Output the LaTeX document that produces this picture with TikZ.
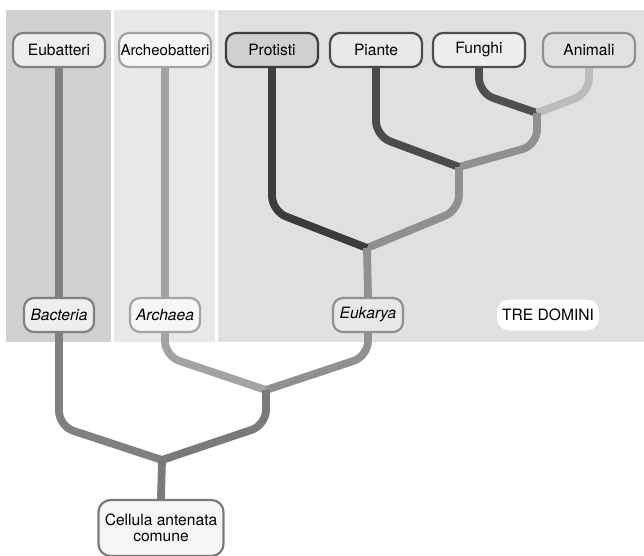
\documentclass[tikz,border=0pt]{standalone}
\usepackage{fontspec}
\setmainfont{TeX Gyre Heros}
\usepackage{xcolor}
\usepackage{tikz}
\usetikzlibrary{positioning}
\definecolor{bactbg}{HTML}{D0D0D0}
\definecolor{archbg}{HTML}{E8E8E8}
\definecolor{eukbg}{HTML}{E0E0E0}
\definecolor{cbact}{HTML}{808080}
\definecolor{carch}{HTML}{A3A3A3}
\definecolor{cprot}{HTML}{3C3C3C}
\definecolor{cpiante}{HTML}{4B4B4B}
\definecolor{cfunghi}{HTML}{4F4F4F}
\definecolor{canim}{HTML}{BBBBBB}
\definecolor{ceuk}{HTML}{909090}
\definecolor{ctrunk}{HTML}{7A7A7A}
\definecolor{paleleaf}{HTML}{EEEEEE}
\definecolor{whiteleaf}{HTML}{F6F6F6}
\tikzset{taxon/.style={rounded corners=10pt,line width=2.2pt,minimum width=92pt,minimum height=34pt,inner sep=1pt,font=\fontsize{15.6}{17}\selectfont},rankbox/.style={taxon,minimum width=70pt,font=\fontsize{15.6}{17}\selectfont\itshape},lineage/.style={line width=7.8pt,rounded corners=15pt}}

\begin{document}
\begin{tikzpicture}[x=1pt,y=-1pt]
\useasboundingbox (0,0) rectangle (644,555);
\fill[bactbg] (6,10) rectangle (111,342);
\fill[archbg] (114,10) rectangle (215,342);
\fill[eukbg] (218,10) rectangle (644,342);
\node[taxon,draw=cbact,fill=paleleaf] (eubatteri) at (59,50) {Eubatteri};
\node[taxon,draw=carch,fill=whiteleaf,font=\fontsize{15}{17}\selectfont] (archeo) at (165,50) {Archeobatteri};
\node[taxon,draw=cprot,fill=bactbg] (protisti) at (272,50) {Protisti};
\node[taxon,draw=cpiante,fill=archbg] (piante) at (376,50) {Piante};
\node[taxon,draw=cfunghi,fill=paleleaf] (funghi) at (479,50) {Funghi};
\node[taxon,draw=ceuk,fill=eukbg] (animali) at (589,50) {Animali};
\node[rankbox,draw=cbact,fill=paleleaf] (bacteria) at (59,315) {Bacteria};
\node[rankbox,draw=carch,fill=whiteleaf] (archaea) at (165,315) {Archaea};
\node[rankbox,draw=ceuk,fill=archbg] (eukarya) at (368,315) {Eukarya};
\node[rounded corners=12pt,fill=white,minimum width=102pt,minimum height=31pt,inner sep=1pt,font=\fontsize{15.6}{17}\selectfont] (tre) at (548,315) {TRE DOMINI};
\node[rounded corners=12pt,line width=2.2pt,draw=ctrunk,fill=whiteleaf,minimum width=125pt,minimum height=56pt,inner sep=1pt,align=center,font=\fontsize{15.6}{16}\selectfont] (root) at (161,528) {Cellula antenata\\comune};
\coordinate (jfa) at (537,113);
\coordinate (jpa) at (459,167);
\coordinate (jeuk) at (367,248);
\coordinate (jae) at (266,390);
\coordinate (jroot) at (162,460);
\draw[lineage,draw=cbact] (eubatteri.south)--(bacteria.north);
\draw[lineage,draw=carch] (archeo.south)--(archaea.north);
\draw[lineage,draw=cfunghi] (funghi.south)--++(0,25)--(jfa);
\draw[lineage,draw=canim] (animali.south)--++(0,25)--(jfa);
\draw[lineage,draw=ceuk] (jfa)--++(0,32)--(jpa);
\draw[lineage,draw=cpiante] (piante.south)--++(0,68)--(jpa);
\draw[lineage,draw=ceuk] (jpa)--++(0,43)--(jeuk);
\draw[lineage,draw=cprot] (protisti.south)--++(0,143)--(jeuk);
\draw[lineage,draw=ceuk] (jeuk)--(eukarya.north);
\draw[lineage,draw=carch] (archaea.south)--++(0,23)--(jae);
\draw[lineage,draw=ceuk] (eukarya.south)--++(0,23)--(jae);
\draw[lineage,draw=cbact] (bacteria.south)--++(0,93)--(jroot);
\draw[lineage,draw=ctrunk] (jae)--++(0,35)--(jroot);
\draw[lineage,draw=ctrunk] (jroot)--(root.north);
\end{tikzpicture}
\end{document}
